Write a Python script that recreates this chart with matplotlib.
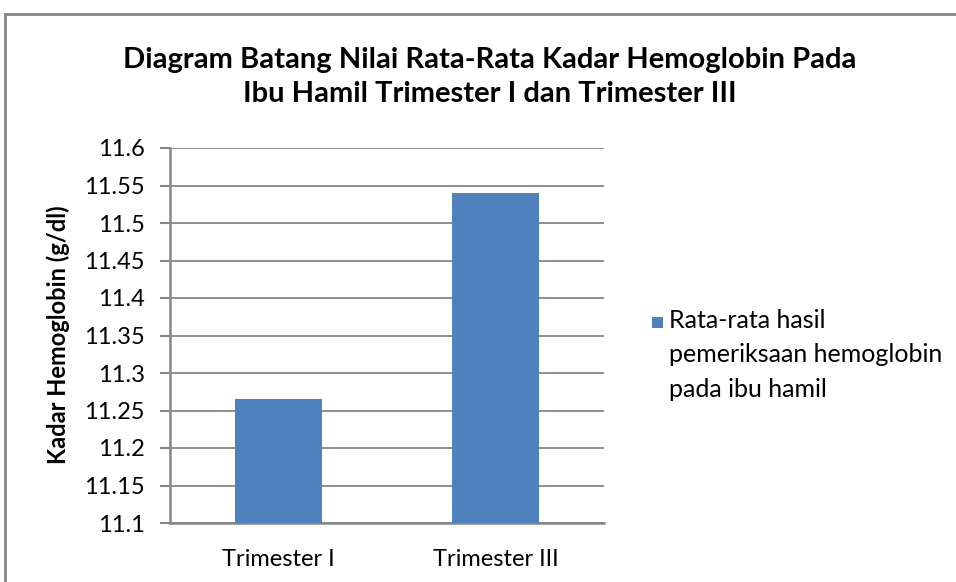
import matplotlib
matplotlib.use("Agg")
import matplotlib.pyplot as plt
from matplotlib.patches import Rectangle

categories = ["Trimester I", "Trimester III"]
values = [11.265, 11.54]
series_name = "Rata-rata hasil\npemeriksaan hemoglobin\npada ibu hamil"
title = "Diagram Batang Nilai Rata-Rata Kadar Hemoglobin Pada\nIbu Hamil Trimester I dan Trimester III"
ylabel = "Kadar Hemoglobin (g/dl)"
yticks = [11.1, 11.15, 11.2, 11.25, 11.3, 11.35, 11.4, 11.45, 11.5, 11.55, 11.6]
ytick_labels = ["11.1", "11.15", "11.2", "11.25", "11.3", "11.35", "11.4", "11.45", "11.5", "11.55", "11.6"]

plt.rcParams['font.family'] = ['Lato', 'DejaVu Sans']
W, H = 956, 582
fig = plt.figure(figsize=(W/100, H/100), dpi=100)
ax = fig.add_axes([170/W, 1-523/H, (604-170)/W, (523-148)/H])

bar_color = "#4F81BD"
grey = "#868686"
x = range(len(categories))
ax.bar(x, values, width=0.4, color=bar_color, zorder=3)
ax.set_xlim(-0.5, 1.5)
ax.set_ylim(11.1, 11.6)
ax.set_yticks(yticks)
ax.set_yticklabels(ytick_labels)
ax.set_xticks(list(x))
ax.set_xticklabels(categories)
ax.yaxis.grid(True, color=grey, lw=1.3, zorder=0)
for s in ["top", "right"]:
    ax.spines[s].set_visible(False)
for s in ["left", "bottom"]:
    ax.spines[s].set_color(grey)
    ax.spines[s].set_linewidth(1.8)
ax.tick_params(axis='y', length=7, width=1.5, color=grey, labelsize=17, pad=11)
ax.tick_params(axis='x', length=0, labelsize=17, pad=19)
ax.set_ylabel(ylabel, fontsize=17, fontweight='bold')
ax.yaxis.set_label_coords(70/W, 1-335/H, transform=fig.transFigure)

fig.text(490/W, 1-77/H, title, ha='center', va='center', fontsize=21, fontweight='bold', linespacing=1.4)

# legend
fig.patches.append(Rectangle((652/W, 1-328/H), 11/W, 11/H, transform=fig.transFigure,
                             facecolor=bar_color, edgecolor='none'))
fig.text(669/W, 1-309/H, series_name, ha='left', va='top', fontsize=18, linespacing=1.6)

fig.patches.append(Rectangle((5/W, -0.05), 1.1, 1-14/H+0.05, transform=fig.transFigure,
                             fill=False, edgecolor=grey, lw=2))

fig.savefig("out.png", dpi=100)
